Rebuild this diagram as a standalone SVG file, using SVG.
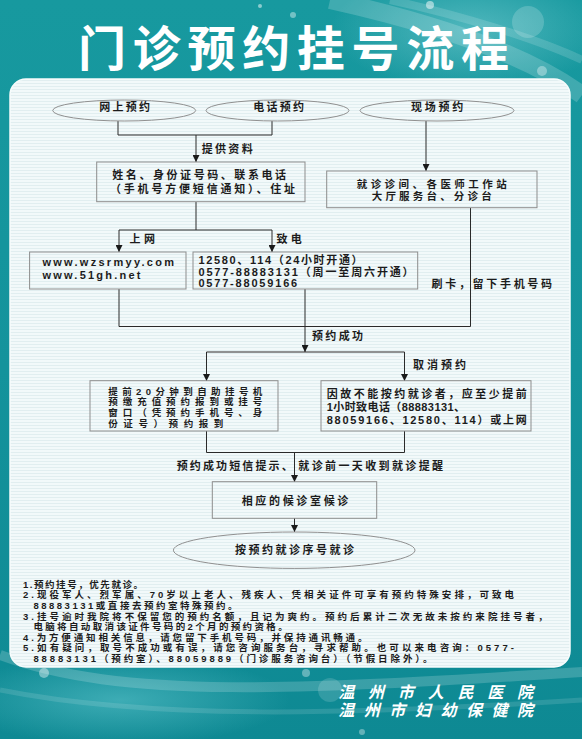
<svg xmlns="http://www.w3.org/2000/svg" width="582" height="739" viewBox="0 0 582 739">
<defs>
  <linearGradient id="bg" x1="0" y1="0" x2="0" y2="1">
    <stop offset="0" stop-color="#17999f"/>
    <stop offset="0.5" stop-color="#14939c"/>
    <stop offset="1" stop-color="#0e8993"/>
  </linearGradient>
  <radialGradient id="glowTR" cx="0.5" cy="0.5" r="0.5">
    <stop offset="0" stop-color="#7fd0d6" stop-opacity="0.55"/>
    <stop offset="1" stop-color="#7fd0d6" stop-opacity="0"/>
  </radialGradient>
  <radialGradient id="glowBL" cx="0.5" cy="0.5" r="0.5">
    <stop offset="0" stop-color="#5cc3cb" stop-opacity="0.6"/>
    <stop offset="1" stop-color="#5cc3cb" stop-opacity="0"/>
  </radialGradient>
  <pattern id="stripes" x="0" y="0" width="4" height="3" patternUnits="userSpaceOnUse">
    <rect width="4" height="3" fill="#f2f9fa"/>
    <rect y="2" width="4" height="1" fill="#e1eef0"/>
  </pattern>
  <marker id="arr" viewBox="0 0 8 8" refX="8" refY="4" markerWidth="7" markerHeight="7" orient="auto" markerUnits="userSpaceOnUse">
    <path d="M0,0 L8,4 L0,8 Z" fill="#1a1a1a"/>
  </marker>
  <style>
    .t{font-family:"Noto Sans CJK SC","Noto Sans",sans-serif;font-weight:bold;font-size:11px;fill:#1c1c1c}
    .l{font-family:"Liberation Sans","Noto Sans CJK SC",sans-serif;font-weight:bold;font-size:11px;fill:#1c1c1c}
    .s{font-size:9.5px}
    .m{font-size:10.5px}
    .n{font-family:"Liberation Sans","Noto Sans CJK SC",sans-serif;font-weight:bold;font-size:9.5px;fill:#1c1c1c}
    .box{fill:none;stroke:#8d8d8d;stroke-width:1}
    .ell{fill:none;stroke:#909090;stroke-width:1}
    .c{fill:none;stroke:#2a2a2a;stroke-width:1}
    .ca{fill:none;stroke:#2a2a2a;stroke-width:1;marker-end:url(#arr)}
    .title{font-family:"Noto Sans CJK SC",sans-serif;font-weight:bold;font-size:48px;fill:#ffffff}
    .foot{font-family:"Noto Sans CJK SC",serif;font-weight:bold;font-style:italic;font-size:16px;fill:#ffffff}
  </style>
</defs>

<!-- background -->
<rect width="582" height="739" fill="url(#bg)"/>
<ellipse cx="470" cy="30" rx="140" ry="60" fill="url(#glowTR)"/>
<path d="M330,0 C420,20 520,50 582,95" fill="none" stroke="#ffffff" stroke-opacity="0.18" stroke-width="18"/>
<path d="M390,0 C460,15 540,40 582,60" fill="none" stroke="#ffffff" stroke-opacity="0.15" stroke-width="8"/>
<circle cx="528" cy="22" r="16" fill="#ffffff" fill-opacity="0.18"/>
<circle cx="430" cy="5" r="4" fill="#ffffff" fill-opacity="0.5"/>
<circle cx="293" cy="15" r="3" fill="#ffffff" fill-opacity="0.4"/>
<circle cx="542" cy="71" r="5" fill="#ffffff" fill-opacity="0.35"/>
<circle cx="260" cy="6" r="2" fill="#ffffff" fill-opacity="0.5"/>
<ellipse cx="120" cy="700" rx="170" ry="45" fill="url(#glowBL)"/>
<path d="M0,655 C120,700 300,690 582,672" fill="none" stroke="#ffffff" stroke-opacity="0.18" stroke-width="10"/>
<path d="M0,690 C150,720 350,715 582,700" fill="none" stroke="#ffffff" stroke-opacity="0.12" stroke-width="5"/>
<circle cx="44" cy="673" r="5" fill="#ffffff" fill-opacity="0.4"/>
<circle cx="95" cy="664" r="3" fill="#ffffff" fill-opacity="0.4"/>
<circle cx="306" cy="673" r="4" fill="#ffffff" fill-opacity="0.35"/>
<circle cx="330" cy="690" r="12" fill="#ffffff" fill-opacity="0.15"/>
<circle cx="362" cy="732" r="3" fill="#ffffff" fill-opacity="0.35"/>

<!-- title -->
<text class="title" x="78" y="66" textLength="431" lengthAdjust="spacing">门诊预约挂号流程</text>

<!-- panel -->
<rect x="10" y="79" width="560" height="588" rx="16" ry="16" fill="url(#stripes)" stroke="#f7fcfc" stroke-width="1.5"/>

<!-- connectors -->
<g id="connectors">
  <polyline class="c" points="118,121 118,135 272,135 272,121"/>
  <line class="ca" x1="196" y1="135" x2="196" y2="162"/>
  <line class="ca" x1="426" y1="121" x2="426" y2="171"/>
  <line class="c" x1="196" y1="202" x2="196" y2="230"/>
  <line class="c" x1="119" y1="230" x2="272" y2="230"/>
  <line class="ca" x1="119" y1="230" x2="119" y2="252"/>
  <line class="ca" x1="272" y1="230" x2="272" y2="252"/>
  <polyline class="c" points="470.5,208 470.5,326.5 119,326.5 119,289"/>
  <line class="ca" x1="305" y1="289" x2="305" y2="352"/>
  <line class="c" x1="206.5" y1="352" x2="404.5" y2="352"/>
  <line class="ca" x1="206.5" y1="352" x2="206.5" y2="381"/>
  <line class="ca" x1="404.5" y1="352" x2="404.5" y2="381"/>
  <polyline class="c" points="206.5,431 206.5,452.5 404.5,452.5 404.5,431"/>
  <line class="ca" x1="294.5" y1="452.5" x2="294.5" y2="482"/>
  <line class="ca" x1="294.5" y1="518" x2="294.5" y2="532"/>
  <text class="t" x="201.7" y="152.5" textLength="51" lengthAdjust="spacing">提供资料</text>
  <text class="t" x="129.5" y="243" textLength="25.5" lengthAdjust="spacing">上网</text>
  <text class="t" x="276.5" y="243" textLength="25.2" lengthAdjust="spacing">致电</text>
  <text class="t" x="431.5" y="287.5" textLength="120.5" lengthAdjust="spacing">刷卡，留下手机号码</text>
  <text class="t" x="312" y="340" textLength="51" lengthAdjust="spacing">预约成功</text>
  <text class="t" x="413" y="369" textLength="53" lengthAdjust="spacing">取消预约</text>
  <text class="t" x="176.7" y="469.5" textLength="116" lengthAdjust="spacing">预约成功短信提示、</text>
  <text class="t" x="298.3" y="469.5" textLength="144.7" lengthAdjust="spacing">就诊前一天收到就诊提醒</text>
</g>

<!-- nodes -->
<g id="online">
  <ellipse class="ell" cx="124.2" cy="110.5" rx="71.5" ry="10.5"/>
  <text class="t" x="99.3" y="111" textLength="50.7" lengthAdjust="spacing">网上预约</text>
</g>
<g id="phone">
  <ellipse class="ell" cx="277.5" cy="110.5" rx="71.5" ry="10.5"/>
  <text class="t" x="253.3" y="111" textLength="50.7" lengthAdjust="spacing">电话预约</text>
</g>
<g id="onsite">
  <ellipse class="ell" cx="437" cy="110.5" rx="77" ry="10.5"/>
  <text class="t" x="411" y="111" textLength="52.3" lengthAdjust="spacing">现场预约</text>
</g>
<g id="info">
  <rect class="box" x="96.7" y="162" width="208.3" height="39.7"/>
  <text class="t" x="112.3" y="179.3" textLength="173.7" lengthAdjust="spacing">姓名、身份证号码、联系电话</text>
  <text class="t" x="110" y="192.6" textLength="185" lengthAdjust="spacing">（手机号方便短信通知）、住址</text>
</g>
<g id="clinic">
  <rect class="box" x="326.7" y="171" width="210.3" height="36.7"/>
  <text class="t m" x="356.7" y="187.9" textLength="150" lengthAdjust="spacing">就诊诊间、各医师工作站</text>
  <text class="t m" x="371.7" y="200.4" textLength="120" lengthAdjust="spacing">大厅服务台、分诊台</text>
</g>
<g id="web">
  <rect class="box" x="29.6" y="252" width="156.4" height="37"/>
  <text class="l" x="42.4" y="266.3" textLength="131.6" lengthAdjust="spacing">www.wzsrmyy.com</text>
  <text class="l" x="42.4" y="279.4" textLength="98.1" lengthAdjust="spacing">www.51gh.net</text>
</g>
<g id="tel">
  <rect class="box" x="193" y="252" width="224.7" height="37"/>
  <text class="l" x="198.4" y="264.2" textLength="164.2" lengthAdjust="spacing">12580、114（24小时开通）</text>
  <text class="l" x="198.4" y="276" textLength="215.2" lengthAdjust="spacing">0577-88883131（周一至周六开通）</text>
  <text class="l" x="198.4" y="287.3" textLength="98.8" lengthAdjust="spacing">0577-88059166</text>
</g>
<g id="checkin">
  <rect class="box" x="90" y="380.7" width="188" height="50.3"/>
  <text class="l s" x="108.3" y="394.5" textLength="154" lengthAdjust="spacing">提前20分钟到自助挂号机</text>
  <text class="t s" x="108.3" y="405.2" textLength="154" lengthAdjust="spacing">预缴充值预约报到或挂号</text>
  <text class="t s" x="108.3" y="415.9" textLength="154" lengthAdjust="spacing">窗口（凭预约手机号、身</text>
  <text class="t s" x="108.3" y="426.5" textLength="115" lengthAdjust="spacing">份证号）预约报到</text>
</g>
<g id="cancel">
  <rect class="box" x="321" y="380.7" width="210" height="50.3"/>
  <text class="t" x="326.7" y="397.5" textLength="200" lengthAdjust="spacing">因故不能按约就诊者，应至少提前</text>
  <text class="l" x="326.7" y="410.9" textLength="138.3" lengthAdjust="spacing">1小时致电话（88883131、</text>
  <text class="l" x="326.7" y="423.5" textLength="200" lengthAdjust="spacing">88059166、12580、114）或上网</text>
</g>
<g id="wait">
  <rect class="box" x="212.3" y="481.7" width="164.4" height="36.6"/>
  <text class="t" x="241.7" y="504.9" textLength="106.6" lengthAdjust="spacing">相应的候诊室候诊</text>
</g>
<g id="visit">
  <ellipse class="ell" cx="294.2" cy="550.2" rx="120.8" ry="18.2"/>
  <text class="t" x="235" y="554.2" textLength="119" lengthAdjust="spacing">按预约就诊序号就诊</text>
</g>

<!-- notes -->
<g id="notes">
  <text class="n" x="23" y="587.5" textLength="120" lengthAdjust="spacing">1.预约挂号，优先就诊。</text>
  <text class="n" x="23" y="598.3" textLength="491" lengthAdjust="spacing">2.现役军人、烈军属、70岁以上老人、残疾人、凭相关证件可享有预约特殊安排，可致电</text>
  <text class="n" x="33.4" y="608.8" textLength="204.2" lengthAdjust="spacing">88883131或直接去预约室特殊预约。</text>
  <text class="n" x="23" y="619.6" textLength="524.5" lengthAdjust="spacing">3.挂号逾时我院将不保留您的预约名额，且记为爽约。预约后累计二次无故未按约来院挂号者，</text>
  <text class="n" x="33.4" y="630.3" textLength="254.3" lengthAdjust="spacing">电脑将自动取消该证件号码的2个月的预约资格。</text>
  <text class="n" x="23" y="641" textLength="344.5" lengthAdjust="spacing">4.为方便通知相关信息，请您留下手机号码，并保持通讯畅通。</text>
  <text class="n" x="23" y="651.4" textLength="491" lengthAdjust="spacing">5.如有疑问，取号不成功或有误，请您咨询服务台，寻求帮助。也可以来电咨询：0577-</text>
  <text class="n" x="33.4" y="661.8" textLength="399.1" lengthAdjust="spacing">88883131（预约室）、88059889（门诊服务咨询台）（节假日除外）。</text>
</g>

<!-- footer -->
<text class="foot" x="338.3" y="697.5" textLength="194.7" lengthAdjust="spacing">温州市人民医院</text>
<text class="foot" x="338.3" y="716" textLength="194.7" lengthAdjust="spacing">温州市妇幼保健院</text>
</svg>
